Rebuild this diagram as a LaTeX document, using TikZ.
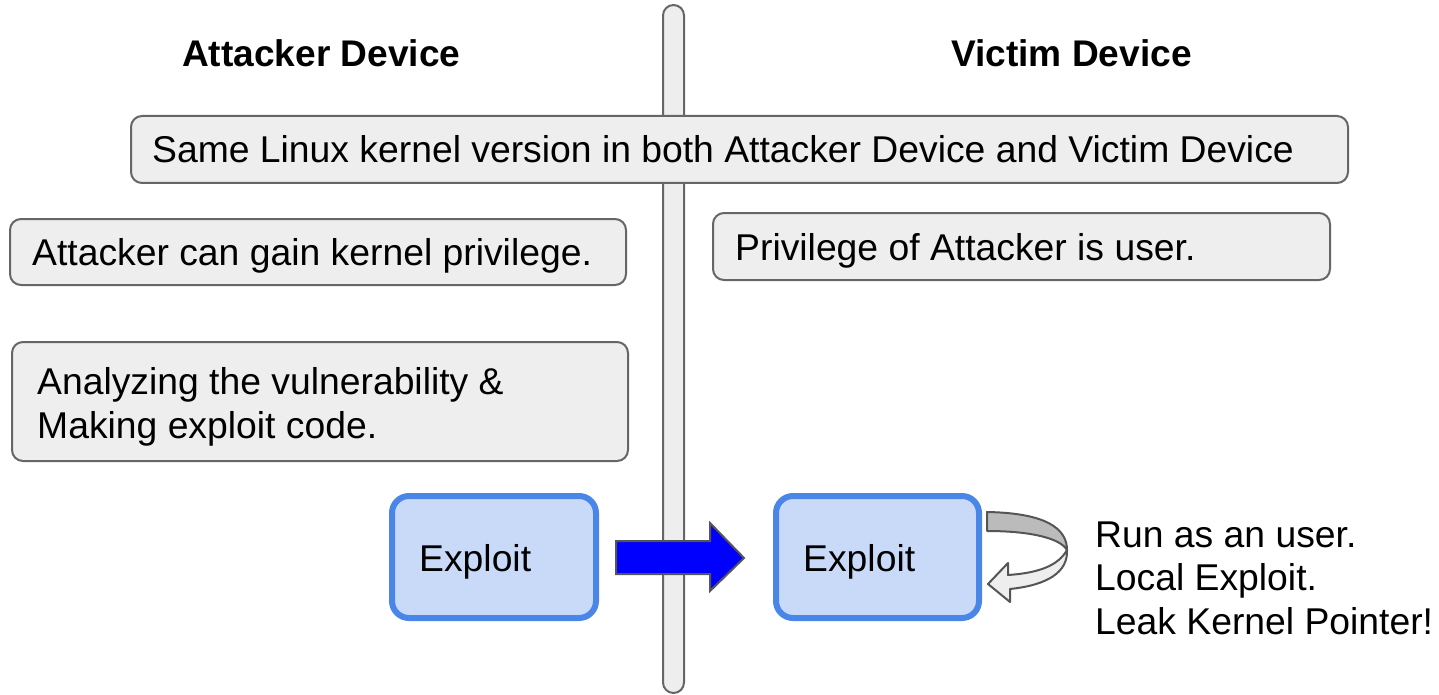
\documentclass[tikz,border=0pt]{standalone}
\usepackage{fontspec}
\setmainfont{Liberation Sans}
\definecolor{boxfill}{HTML}{EEEEEE}
\definecolor{boxline}{HTML}{666666}
\definecolor{exfill}{HTML}{C9DAF8}
\definecolor{exline}{HTML}{4A86E8}
\definecolor{arrline}{HTML}{555555}
\definecolor{darkband}{HTML}{BBBBBB}
\begin{document}
\begin{tikzpicture}[x=1pt,y=-1pt,
  graybox/.style={draw=boxline,fill=boxfill,line width=2pt,rounded corners=11pt},
  exbox/.style={draw=exline,fill=exfill,line width=6pt,rounded corners=17pt},
  txt/.style={inner sep=0pt,anchor=base west,font=\fontsize{37.3}{43.5}\selectfont},
  head/.style={inner sep=0pt,anchor=base west,font=\fontsize{37.1}{43.5}\selectfont\bfseries}]
\useasboundingbox (0,0) rectangle (1439,695);
% divider bar
\draw[graybox,rounded corners=10.5pt] (663,5) rectangle (684,693);
% headers
\node[head] (hA) at (182,67) {Attacker Device};
\node[head] (hV) at (951,67) {Victim Device};
% top box
\draw[graybox] (131,116) rectangle (1348,183);
\node[txt] (same) at (152,163) {Same Linux kernel version in both Attacker Device and Victim Device};
% left box 1
\draw[graybox] (10,219) rectangle (626,285);
\node[txt] (gain) at (32,265) {Attacker can gain kernel privilege.};
% right box 1
\draw[graybox] (713,213) rectangle (1330,280);
\node[txt] (priv) at (735,260) {Privilege of Attacker is user.};
% left box 2
\draw[graybox] (12,342) rectangle (628,461);
\node[txt,align=left] (anal) at (37,438) {Analyzing the vulnerability \&\\Making exploit code.};
% exploit boxes
\draw[exbox] (392,496) rectangle (596,618);
\node[txt] (exA) at (419,571) {Exploit};
\draw[exbox] (776,496) rectangle (979,618);
\node[txt] (exV) at (803,571) {Exploit};
% blue arrow
\draw[draw=arrline,fill=blue,line width=2pt,line join=miter]
  (616,541) -- (710,541) -- (710,523) -- (744,558) -- (710,591) -- (710,574) -- (616,574) -- cycle;
% curved self arrow
\draw[draw=arrline,fill=boxfill,line width=2pt,line join=round]
  (1067,550) .. controls (1068,572) and (1048,585) .. (1010,589)
  -- (1010,602) -- (988,584) -- (1008,563) -- (1008,575)
  .. controls (1038,573) and (1058,566) .. (1067,550) -- cycle;
\draw[draw=arrline,fill=darkband,line width=2pt,line join=round]
  (987,512) .. controls (1045,513) and (1067,528) .. (1067,550)
  .. controls (1060,538) and (1030,531) .. (987,531) -- cycle;
% right texts
\node[txt,align=left] (run) at (1095,634) {Run as an user.\\Local Exploit.\\Leak Kernel Pointer!};
\end{tikzpicture}
\end{document}
